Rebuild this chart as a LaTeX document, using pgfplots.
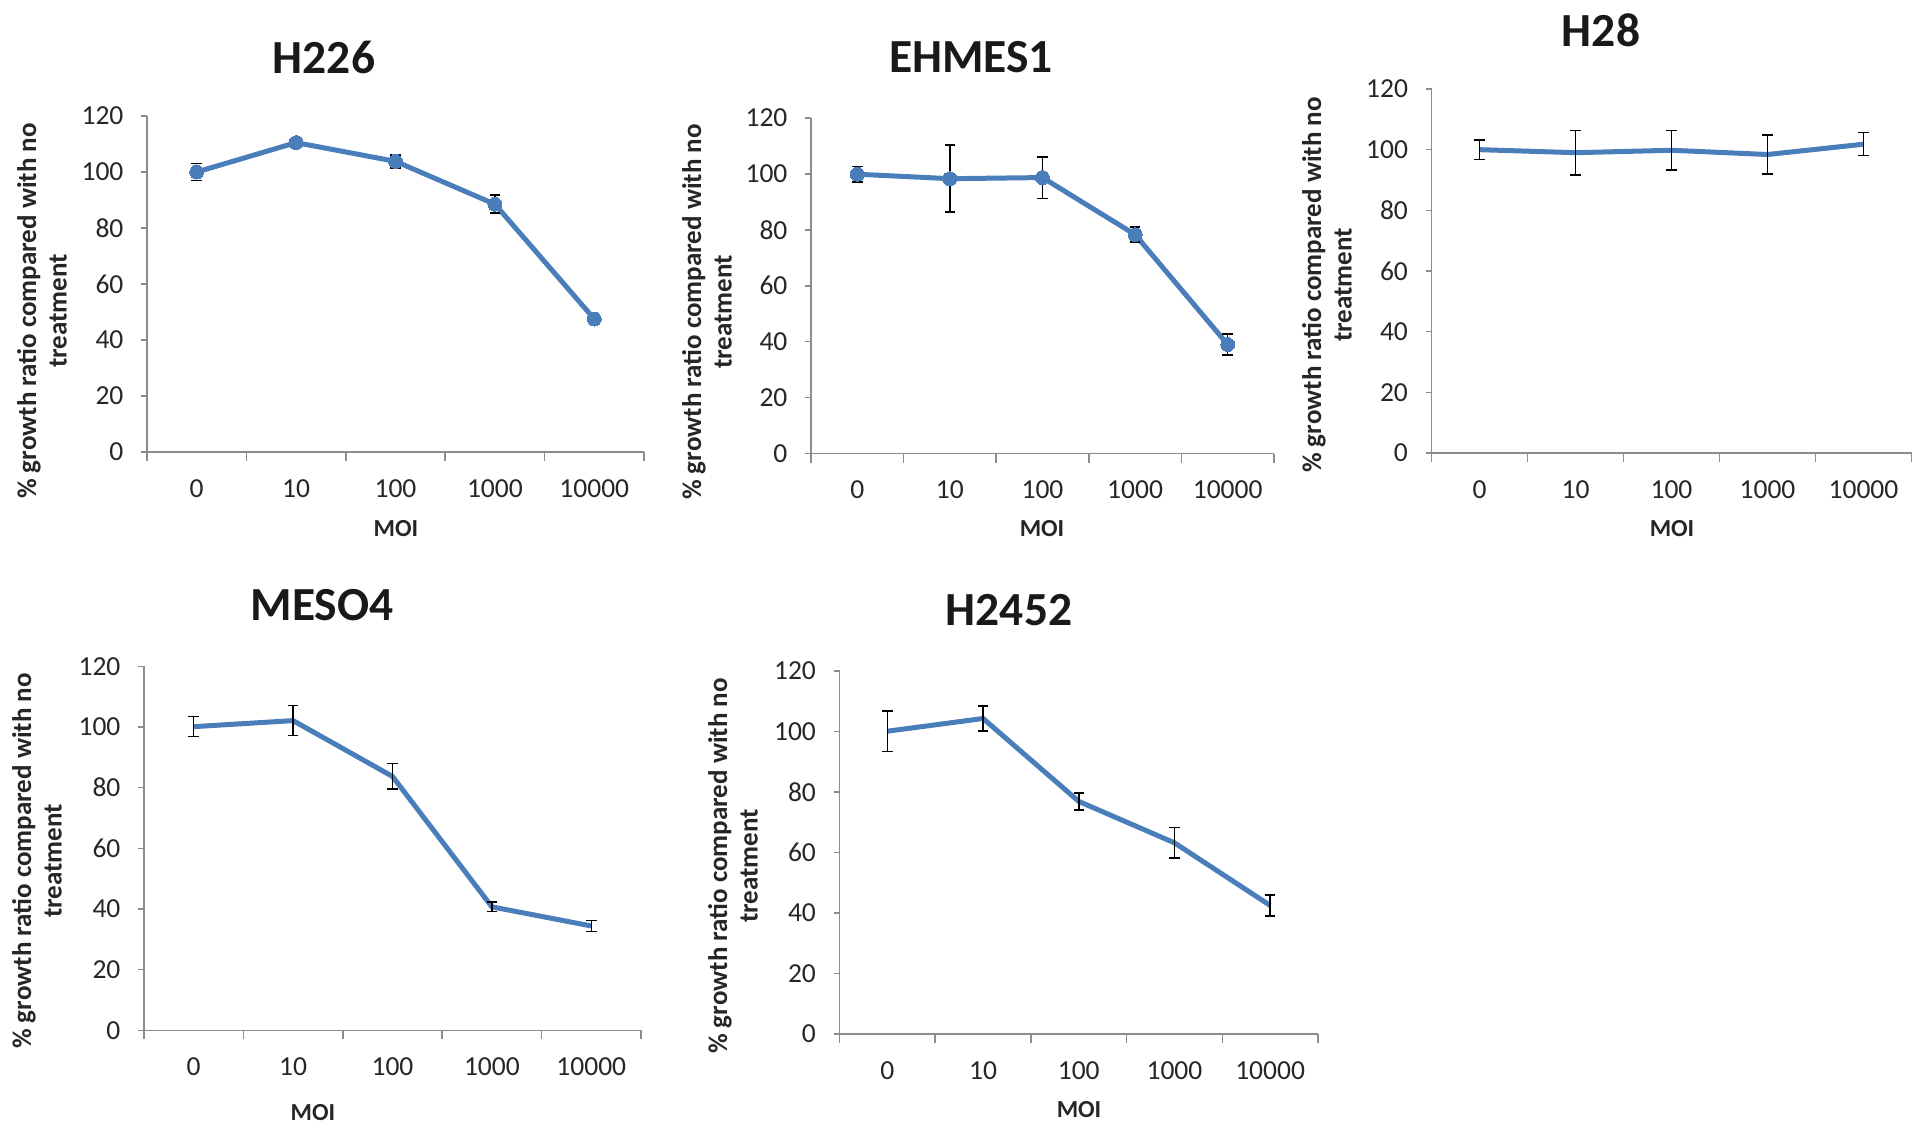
\documentclass[border=0pt]{standalone}
\usepackage{fontspec}
\setmainfont{Carlito}
\usepackage{pgfplots}
\pgfplotsset{compat=1.18}

\definecolor{xlblue}{HTML}{4A7EBB}
\definecolor{axgray}{HTML}{8C8C8C}

% one reference pixel
\def\px{0.4pt}

\pgfplotsset{
  moi/.style={
    scale only axis, anchor=south west,
    xmin=-0.5, xmax=4.5, ymin=0, ymax=120,
    axis lines*=left,
    axis line style={axgray, line width=0.6pt},
    xtick={0,...,4}, xticklabels={0,10,100,1000,10000},
    minor xtick={-0.5,0.5,...,4.5},
    ytick={0,20,...,120},
    tick align=outside,
    major x tick style={draw=none},
    minor x tick style={axgray, line width=0.6pt},
    minor tick length=3.6pt,
    major tick length=2.4pt,
    y tick style={axgray, line width=0.6pt},
    tick label style={font=\fontsize{11}{13}\selectfont, text=black!85},
    /pgf/number format/assume math mode=true,
    xticklabel style={yshift=-5pt},
    yticklabel style={xshift=-3.5pt},
    clip=false,
  },
  ser/.style={xlblue, line width=2pt, mark=none,
    error bars/y dir=both, error bars/y explicit,
    error bars/error mark=|,
    error bars/error bar style={black, line width=0.6pt},
    error bars/error mark options={black, line width=0.6pt, mark size=2.1pt}},
  dots/.style={mark=*, mark size=2.8pt, mark options={fill=xlblue, draw=xlblue, line width=0pt}},
}
\tikzset{
  ttl/.style={font=\bfseries\fontsize{19}{22}\selectfont, text=black!90},
  ylab/.style={rotate=90, align=center, font=\bfseries\fontsize{10.8}{12.2}\selectfont, text=black!85},
  xlab/.style={font=\bfseries\fontsize{9.8}{11}\selectfont, text=black!85},
}

\begin{document}
\begin{tikzpicture}
\path[use as bounding box] (0,0) rectangle ({1913*\px},{-1125*\px});

% H226
\begin{axis}[moi, at={({147*\px},{-452*\px})}, width={497*\px}, height={336*\px}]
\addplot[ser, dots] coordinates {
  (0,100) +- (0,3.0)
  (1,110.5) +- (0,1.0)
  (2,103.8) +- (0,2.3)
  (3,88.5) +- (0,3.2)
  (4,47.5) +- (0,1.5)
};
\end{axis}
\node[ttl] at ({324*\px},{-57*\px}) {H226};
\node[ylab] at ({42*\px},{-311*\px}) {\% growth ratio compared with no\\treatment};
\node[xlab] at ({396*\px},{-529*\px}) {MOI};

% EHMES1
\begin{axis}[moi, at={({811*\px},{-453.6*\px})}, width={463*\px}, height={335.6*\px}]
\addplot[ser, dots] coordinates {
  (0,99.9) +- (0,2.7)
  (1,98.3) +- (0,12.0)
  (2,98.7) +- (0,7.4)
  (3,78.3) +- (0,2.7)
  (4,39.0) +- (0,3.7)
};
\end{axis}
\node[ttl] at ({971*\px},{-57*\px}) {EHMES1};
\node[ylab] at ({707*\px},{-312*\px}) {\% growth ratio compared with no\\treatment};
\node[xlab] at ({1042*\px},{-529*\px}) {MOI};

% H28
\begin{axis}[moi, at={({1431.5*\px},{-453*\px})}, width={480*\px}, height={364*\px}]
\addplot[ser] coordinates {
  (0,100.0) +- (0,3.2)
  (1,99.0) +- (0,7.3)
  (2,99.8) +- (0,6.5)
  (3,98.4) +- (0,6.4)
  (4,101.8) +- (0,3.8)
};
\end{axis}
\node[ttl] at ({1601*\px},{-30*\px}) {H28};
\node[ylab] at ({1327*\px},{-285*\px}) {\% growth ratio compared with no\\treatment};
\node[xlab] at ({1672*\px},{-529*\px}) {MOI};

% MESO4
\begin{axis}[moi, at={({144*\px},{-1030.3*\px})}, width={497*\px}, height={364*\px}]
\addplot[ser] coordinates {
  (0,100.1) +- (0,3.3)
  (1,102.1) +- (0,4.9)
  (2,83.7) +- (0,4.2)
  (3,40.7) +- (0,1.6)
  (4,34.4) +- (0,1.8)
};
\end{axis}
\node[ttl] at ({322*\px},{-605*\px}) {MESO4};
\node[ylab] at ({37*\px},{-861*\px}) {\% growth ratio compared with no\\treatment};
\node[xlab] at ({313*\px},{-1113*\px}) {MOI};

% H2452
\begin{axis}[moi, at={({839.5*\px},{-1034*\px})}, width={478.5*\px}, height={363*\px}]
\addplot[ser] coordinates {
  (0,100.1) +- (0,6.7)
  (1,104.3) +- (0,4.2)
  (2,76.9) +- (0,2.8)
  (3,63.2) +- (0,5.0)
  (4,42.5) +- (0,3.5)
};
\end{axis}
\node[ttl] at ({1009*\px},{-610*\px}) {H2452};
\node[ylab] at ({733*\px},{-866*\px}) {\% growth ratio compared with no\\treatment};
\node[xlab] at ({1079*\px},{-1110*\px}) {MOI};
\end{tikzpicture}
\end{document}
